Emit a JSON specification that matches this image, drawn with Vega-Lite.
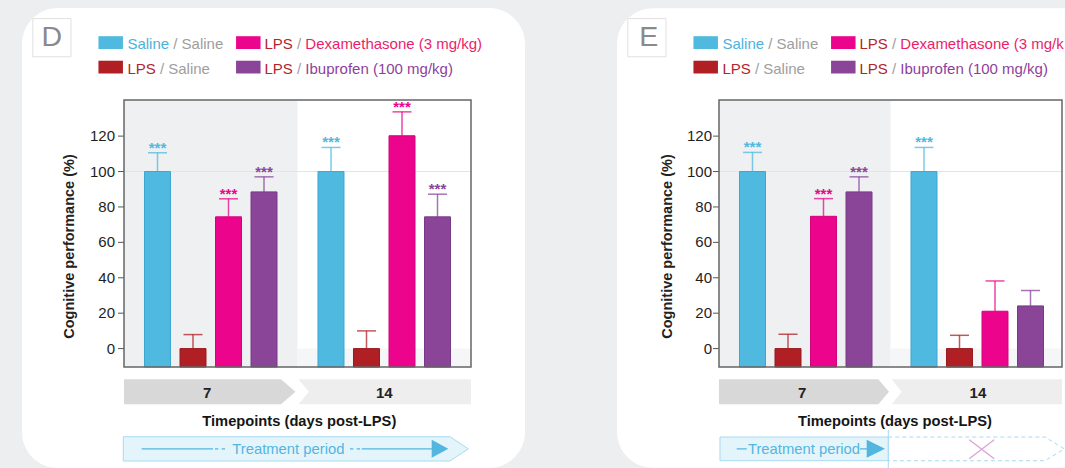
{
"$schema": "https://vega.github.io/schema/vega-lite/v6.json",
"background": "#edeef0",
"padding": {"left": 22, "top": 8, "right": 0, "bottom": 0},
"spacing": 92,
"bounds": "flush",
"config": {"view": {"stroke": null}, "font": "Liberation Sans"},
"datasets": {
"one": [{}],
"yticks": [{"v":0},{"v":20},{"v":40},{"v":60},{"v":80},{"v":100},{"v":120}],
"barsD": [
{"t":"7","g":"Saline / Saline","v":100,"hi":110.6,"sig":"***"},
{"t":"7","g":"LPS / Saline","v":0,"hi":7.9,"sig":""},
{"t":"7","g":"LPS / Dexamethasone (3 mg/kg)","v":74.4,"hi":84.6,"sig":"***"},
{"t":"7","g":"LPS / Ibuprofen (100 mg/kg)","v":88.5,"hi":97,"sig":"***"},
{"t":"14","g":"Saline / Saline","v":100,"hi":113.6,"sig":"***"},
{"t":"14","g":"LPS / Saline","v":0,"hi":10,"sig":""},
{"t":"14","g":"LPS / Dexamethasone (3 mg/kg)","v":120.2,"hi":133.7,"sig":"***"},
{"t":"14","g":"LPS / Ibuprofen (100 mg/kg)","v":74.4,"hi":87.2,"sig":"***"}
],
"barsE": [
{"t":"7","g":"Saline / Saline","v":100,"hi":110.8,"sig":"***"},
{"t":"7","g":"LPS / Saline","v":0,"hi":8.1,"sig":""},
{"t":"7","g":"LPS / Dexamethasone (3 mg/kg)","v":74.7,"hi":84.7,"sig":"***"},
{"t":"7","g":"LPS / Ibuprofen (100 mg/kg)","v":88.5,"hi":97,"sig":"***"},
{"t":"14","g":"Saline / Saline","v":100,"hi":113.6,"sig":"***"},
{"t":"14","g":"LPS / Saline","v":0,"hi":7.5,"sig":""},
{"t":"14","g":"LPS / Dexamethasone (3 mg/kg)","v":21.1,"hi":38.2,"sig":""},
{"t":"14","g":"LPS / Ibuprofen (100 mg/kg)","v":24.1,"hi":32.8,"sig":""}
]
},
"hconcat": [
{
"width": 503, "height": 460,
"view": {"fill": "#ffffff", "cornerRadius": 36, "stroke": null},
"layer": [
{"data":{"name":"one"},"mark":{"type":"rect","fill":"#eff0f1"},
 "encoding":{"x":{"datum":"7","type":"nominal","scale":{"type":"band","domain":["7","14"],"paddingInner":0,"paddingOuter":0.449568,"align":0.653846},"axis":null},"y":{"datum":140.4,"type":"quantitative","scale":{"domain":[-67.44,192.36],"nice":false,"zero":false},"axis":null},"y2":{"datum":-10.4}}},
{"data":{"name":"one"},"mark":{"type":"rect","fill":"#f5f6f7"},
 "encoding":{"x":{"datum":"14","type":"nominal","scale":{"type":"band","domain":["7","14"],"paddingInner":0,"paddingOuter":0.449568,"align":0.653846},"axis":null},"y":{"datum":0,"type":"quantitative","scale":{"domain":[-67.44,192.36],"nice":false,"zero":false},"axis":null},"y2":{"datum":-10.4}}},
{"data":{"name":"one"},"mark":{"type":"point","shape":"M-1,0H1","size":120409,"filled":false,"stroke":"#e2e4e6","strokeWidth":1,"opacity":1},
 "encoding":{"x":{"datum":"14","type":"nominal","bandPosition":0,"scale":{"type":"band","domain":["7","14"],"paddingInner":0,"paddingOuter":0.449568,"align":0.653846},"axis":null},"y":{"datum":100,"type":"quantitative","scale":{"domain":[-67.44,192.36],"nice":false,"zero":false},"axis":null}}},
{"data":{"name":"one"},"mark":{"type":"point","shape":"M-1,-0.1441L0.8098,-0.1441L0.9769,0L0.8098,0.1441L-1,0.1441Z","size":30102,"filled":true,"fill":"#d8d8d8","strokeWidth":0,"opacity":1},
 "encoding":{"x":{"datum":"7","type":"nominal","scale":{"type":"band","domain":["7","14"],"paddingInner":0,"paddingOuter":0.449568,"align":0.653846},"axis":null},"y":{"datum":-24.4,"type":"quantitative","scale":{"domain":[-67.44,192.36],"nice":false,"zero":false},"axis":null}}},
{"data":{"name":"one"},"mark":{"type":"point","shape":"M-0.9885,-0.1441L1,-0.1441L1,0.1441L-0.9885,0.1441L-0.8674,0Z","size":30102,"filled":true,"fill":"#eeeeee","strokeWidth":0,"opacity":1},
 "encoding":{"x":{"datum":"14","type":"nominal","scale":{"type":"band","domain":["7","14"],"paddingInner":0,"paddingOuter":0.449568,"align":0.653846},"axis":null},"y":{"datum":-24.4,"type":"quantitative","scale":{"domain":[-67.44,192.36],"nice":false,"zero":false},"axis":null}}},
{"data":{"name":"one"},"mark":{"type":"point","shape":"M-1.004,-0.07H0.879L0.9844,0L0.879,0.07H-1.004Z","size":120409,"filled":true,"fill":"#e4f4fb","stroke":"#a8dbf0","strokeWidth":1,"opacity":1},
 "encoding":{"x":{"datum":"14","type":"nominal","bandPosition":0,"scale":{"type":"band","domain":["7","14"],"paddingInner":0,"paddingOuter":0.449568,"align":0.653846},"axis":null},"y":{"datum":-56.63,"type":"quantitative","scale":{"domain":[-67.44,192.36],"nice":false,"zero":false},"axis":null}}},
{"data":{"name":"one"},"mark":{"type":"point","shape":"M-0.898,0H-0.487M-0.4755,0H-0.4565M-0.4369,0H-0.4179M0.3026,0H0.3216M0.3412,0H0.3602M0.37,0H0.7752","size":120409,"filled":false,"stroke":"#52b6df","strokeWidth":1.3,"opacity":1},
 "encoding":{"x":{"datum":"14","type":"nominal","bandPosition":0,"scale":{"type":"band","domain":["7","14"],"paddingInner":0,"paddingOuter":0.449568,"align":0.653846},"axis":null},"y":{"datum":-56.63,"type":"quantitative","scale":{"domain":[-67.44,192.36],"nice":false,"zero":false},"axis":null}}},
{"data":{"name":"one"},"mark":{"type":"point","shape":"M0.7735,-0.0519L0.8692,0L0.7735,0.0519Z","size":120409,"filled":true,"fill":"#52b6df","strokeWidth":0,"opacity":1},
 "encoding":{"x":{"datum":"14","type":"nominal","bandPosition":0,"scale":{"type":"band","domain":["7","14"],"paddingInner":0,"paddingOuter":0.449568,"align":0.653846},"axis":null},"y":{"datum":-56.63,"type":"quantitative","scale":{"domain":[-67.44,192.36],"nice":false,"zero":false},"axis":null}}},
{"data":{"name":"one"},"mark":{"type":"point","shape":"M-1,-0.522H1V0.522H-1Z","size":600,"filled":true,"fill":"#4fb9e0","strokeWidth":0,"opacity":1},
 "encoding":{"x":{"datum":"7","type":"nominal","bandPosition":-0.07666,"scale":{"type":"band","domain":["7","14"],"paddingInner":0,"paddingOuter":0.449568,"align":0.653846},"axis":null},"y":{"datum":172.82,"type":"quantitative","scale":{"domain":[-67.44,192.36],"nice":false,"zero":false},"axis":null}}},
{"data":{"name":"one"},"mark":{"type":"point","shape":"M-1,-0.522H1V0.522H-1Z","size":600,"filled":true,"fill":"#b01f24","strokeWidth":0,"opacity":1},
 "encoding":{"x":{"datum":"7","type":"nominal","bandPosition":-0.07666,"scale":{"type":"band","domain":["7","14"],"paddingInner":0,"paddingOuter":0.449568,"align":0.653846},"axis":null},"y":{"datum":158.98,"type":"quantitative","scale":{"domain":[-67.44,192.36],"nice":false,"zero":false},"axis":null}}},
{"data":{"name":"one"},"mark":{"type":"point","shape":"M-1,-0.522H1V0.522H-1Z","size":600,"filled":true,"fill":"#ec058c","strokeWidth":0,"opacity":1},
 "encoding":{"x":{"datum":"7","type":"nominal","bandPosition":0.71643,"scale":{"type":"band","domain":["7","14"],"paddingInner":0,"paddingOuter":0.449568,"align":0.653846},"axis":null},"y":{"datum":172.82,"type":"quantitative","scale":{"domain":[-67.44,192.36],"nice":false,"zero":false},"axis":null}}},
{"data":{"name":"one"},"mark":{"type":"point","shape":"M-1,-0.522H1V0.522H-1Z","size":600,"filled":true,"fill":"#8a4599","strokeWidth":0,"opacity":1},
 "encoding":{"x":{"datum":"7","type":"nominal","bandPosition":0.71643,"scale":{"type":"band","domain":["7","14"],"paddingInner":0,"paddingOuter":0.449568,"align":0.653846},"axis":null},"y":{"datum":158.98,"type":"quantitative","scale":{"domain":[-67.44,192.36],"nice":false,"zero":false},"axis":null}}},
{"data":{"name":"one"},"mark":{"type":"point","shape":"square","size":1459,"filled":true,"fill":"#ffffff","stroke":"#e0e0e0","strokeWidth":1,"opacity":1},
 "encoding":{"x":{"datum":"7","type":"nominal","bandPosition":-0.4156,"scale":{"type":"band","domain":["7","14"],"paddingInner":0,"paddingOuter":0.449568,"align":0.653846},"axis":null},"y":{"datum":175.59,"type":"quantitative","scale":{"domain":[-67.44,192.36],"nice":false,"zero":false},"axis":null}}},
{"data":{"name":"barsD"},
 "encoding":{
  "x":{"field":"t","type":"nominal","scale":{"type":"band","domain":["7","14"],"paddingInner":0,"paddingOuter":0.449568,"align":0.653846},"axis":null},
  "xOffset":{"field":"g","type":"nominal","scale":{"domain":["Saline / Saline","LPS / Saline","LPS / Dexamethasone (3 mg/kg)","LPS / Ibuprofen (100 mg/kg)"],"paddingInner":0.26761,"paddingOuter":0.57746}},
  "color":{"field":"g","type":"nominal","scale":{"domain":["Saline / Saline","LPS / Saline","LPS / Dexamethasone (3 mg/kg)","LPS / Ibuprofen (100 mg/kg)"],"range":["#4fb9e0","#b01f24","#ec058c","#8a4599"]},"legend":null}
 },
 "layer":[
  {"mark":{"type":"bar","strokeWidth":1},"encoding":{"y":{"field":"v","type":"quantitative","scale":{"domain":[-67.44,192.36],"nice":false,"zero":false},"axis":null},"y2":{"datum":-10.4},"stroke":{"field":"g","type":"nominal","scale":{"domain":["Saline / Saline","LPS / Saline","LPS / Dexamethasone (3 mg/kg)","LPS / Ibuprofen (100 mg/kg)"],"range":["#3da6cf","#9a191e","#d1047b","#763a86"]},"legend":null}}},
  {"mark":{"type":"rule","strokeWidth":1.5,"opacity":0.75},"encoding":{"y":{"field":"v","type":"quantitative","scale":{"domain":[-67.44,192.36],"nice":false,"zero":false},"axis":null},"y2":{"field":"hi"}}},
  {"mark":{"type":"tick","orient":"horizontal","size":19,"thickness":1.5,"opacity":0.75},"encoding":{"y":{"field":"hi","type":"quantitative","scale":{"domain":[-67.44,192.36],"nice":false,"zero":false},"axis":null}}},
  {"mark":{"type":"text","fontSize":15,"fontWeight":"bold","baseline":"alphabetic"},"encoding":{"y":{"field":"hi","type":"quantitative","scale":{"domain":[-67.44,192.36],"nice":false,"zero":false},"axis":null},"text":{"field":"sig"}}}
 ]},
{"data":{"name":"yticks"},"mark":{"type":"point","shape":"M-1,0H0","size":144,"filled":false,"stroke":"#555555","strokeWidth":1,"opacity":1},
 "encoding":{"x":{"datum":"7","type":"nominal","bandPosition":0,"scale":{"type":"band","domain":["7","14"],"paddingInner":0,"paddingOuter":0.449568,"align":0.653846},"axis":null},"y":{"field":"v","type":"quantitative","scale":{"domain":[-67.44,192.36],"nice":false,"zero":false},"axis":null}}},
{"data":{"name":"yticks"},"mark":{"type":"text","fontSize":15,"color":"#1e1e1e","align":"right","baseline":"middle"},
 "encoding":{"x":{"datum":"7","type":"nominal","bandPosition":-0.0519,"scale":{"type":"band","domain":["7","14"],"paddingInner":0,"paddingOuter":0.449568,"align":0.653846},"axis":null},"y":{"field":"v","type":"quantitative","scale":{"domain":[-67.44,192.36],"nice":false,"zero":false},"axis":null},"text":{"field":"v","type":"quantitative"}}},
{"data":{"name":"one"},"mark":{"type":"point","shape":"M-1,-0.7695H1V0.7695H-1Z","size":120409,"filled":false,"stroke":"#666666","strokeWidth":1.5,"opacity":1},
 "encoding":{"x":{"datum":"14","type":"nominal","bandPosition":0,"scale":{"type":"band","domain":["7","14"],"paddingInner":0,"paddingOuter":0.449568,"align":0.653846},"axis":null},"y":{"datum":65,"type":"quantitative","scale":{"domain":[-67.44,192.36],"nice":false,"zero":false},"axis":null}}},
{"data":{"name":"one"},"mark":{"type":"text","text":"Saline","fontSize":15,"color":"#4ab3dd","align":"left","baseline":"alphabetic"},
 "encoding":{"x":{"datum":"7","type":"nominal","bandPosition":0.0196,"scale":{"type":"band","domain":["7","14"],"paddingInner":0,"paddingOuter":0.449568,"align":0.653846},"axis":null},"y":{"datum":169.2,"type":"quantitative","scale":{"domain":[-67.44,192.36],"nice":false,"zero":false},"axis":null}}},
{"data":{"name":"one"},"mark":{"type":"text","text":"/ Saline","fontSize":15,"color":"#9e9e9e","align":"left","baseline":"alphabetic","dx":45.86},
 "encoding":{"x":{"datum":"7","type":"nominal","bandPosition":0.0196,"scale":{"type":"band","domain":["7","14"],"paddingInner":0,"paddingOuter":0.449568,"align":0.653846},"axis":null},"y":{"datum":169.2,"type":"quantitative","scale":{"domain":[-67.44,192.36],"nice":false,"zero":false},"axis":null}}},
{"data":{"name":"one"},"mark":{"type":"text","text":"LPS","fontSize":15,"color":"#b3252a","align":"left","baseline":"alphabetic"},
 "encoding":{"x":{"datum":"7","type":"nominal","bandPosition":0.8098,"scale":{"type":"band","domain":["7","14"],"paddingInner":0,"paddingOuter":0.449568,"align":0.653846},"axis":null},"y":{"datum":169.2,"type":"quantitative","scale":{"domain":[-67.44,192.36],"nice":false,"zero":false},"axis":null}}},
{"data":{"name":"one"},"mark":{"type":"text","text":"/","fontSize":15,"color":"#9e9e9e","align":"left","baseline":"alphabetic","dx":32.52},
 "encoding":{"x":{"datum":"7","type":"nominal","bandPosition":0.8098,"scale":{"type":"band","domain":["7","14"],"paddingInner":0,"paddingOuter":0.449568,"align":0.653846},"axis":null},"y":{"datum":169.2,"type":"quantitative","scale":{"domain":[-67.44,192.36],"nice":false,"zero":false},"axis":null}}},
{"data":{"name":"one"},"mark":{"type":"text","text":"Dexamethasone (3 mg/kg)","fontSize":15,"color":"#e91e6b","align":"left","baseline":"alphabetic","dx":40.86},
 "encoding":{"x":{"datum":"7","type":"nominal","bandPosition":0.8098,"scale":{"type":"band","domain":["7","14"],"paddingInner":0,"paddingOuter":0.449568,"align":0.653846},"axis":null},"y":{"datum":169.2,"type":"quantitative","scale":{"domain":[-67.44,192.36],"nice":false,"zero":false},"axis":null}}},
{"data":{"name":"one"},"mark":{"type":"text","text":"LPS","fontSize":15,"color":"#b3252a","align":"left","baseline":"alphabetic"},
 "encoding":{"x":{"datum":"7","type":"nominal","bandPosition":0.0196,"scale":{"type":"band","domain":["7","14"],"paddingInner":0,"paddingOuter":0.449568,"align":0.653846},"axis":null},"y":{"datum":154.86,"type":"quantitative","scale":{"domain":[-67.44,192.36],"nice":false,"zero":false},"axis":null}}},
{"data":{"name":"one"},"mark":{"type":"text","text":"/ Saline","fontSize":15,"color":"#9e9e9e","align":"left","baseline":"alphabetic","dx":32.52},
 "encoding":{"x":{"datum":"7","type":"nominal","bandPosition":0.0196,"scale":{"type":"band","domain":["7","14"],"paddingInner":0,"paddingOuter":0.449568,"align":0.653846},"axis":null},"y":{"datum":154.86,"type":"quantitative","scale":{"domain":[-67.44,192.36],"nice":false,"zero":false},"axis":null}}},
{"data":{"name":"one"},"mark":{"type":"text","text":"LPS","fontSize":15,"color":"#b3252a","align":"left","baseline":"alphabetic"},
 "encoding":{"x":{"datum":"7","type":"nominal","bandPosition":0.8098,"scale":{"type":"band","domain":["7","14"],"paddingInner":0,"paddingOuter":0.449568,"align":0.653846},"axis":null},"y":{"datum":154.86,"type":"quantitative","scale":{"domain":[-67.44,192.36],"nice":false,"zero":false},"axis":null}}},
{"data":{"name":"one"},"mark":{"type":"text","text":"/","fontSize":15,"color":"#9e9e9e","align":"left","baseline":"alphabetic","dx":32.52},
 "encoding":{"x":{"datum":"7","type":"nominal","bandPosition":0.8098,"scale":{"type":"band","domain":["7","14"],"paddingInner":0,"paddingOuter":0.449568,"align":0.653846},"axis":null},"y":{"datum":154.86,"type":"quantitative","scale":{"domain":[-67.44,192.36],"nice":false,"zero":false},"axis":null}}},
{"data":{"name":"one"},"mark":{"type":"text","text":"Ibuprofen (100 mg/kg)","fontSize":15,"color":"#8d3f9d","align":"left","baseline":"alphabetic","dx":40.86},
 "encoding":{"x":{"datum":"7","type":"nominal","bandPosition":0.8098,"scale":{"type":"band","domain":["7","14"],"paddingInner":0,"paddingOuter":0.449568,"align":0.653846},"axis":null},"y":{"datum":154.86,"type":"quantitative","scale":{"domain":[-67.44,192.36],"nice":false,"zero":false},"axis":null}}},
{"data":{"name":"one"},"mark":{"type":"text","text":"D","fontSize":28.5,"color":"#8a8a8a","align":"center","baseline":"alphabetic"},
 "encoding":{"x":{"datum":"7","type":"nominal","bandPosition":-0.4156,"scale":{"type":"band","domain":["7","14"],"paddingInner":0,"paddingOuter":0.449568,"align":0.653846},"axis":null},"y":{"datum":171.12,"type":"quantitative","scale":{"domain":[-67.44,192.36],"nice":false,"zero":false},"axis":null}}},
{"data":{"name":"one"},"mark":{"type":"text","text":"Cognitive performance (%)","fontSize":14.5,"fontWeight":"bold","color":"#222222","align":"center","baseline":"middle","angle":270},
 "encoding":{"x":{"datum":"7","type":"nominal","bandPosition":-0.3095,"scale":{"type":"band","domain":["7","14"],"paddingInner":0,"paddingOuter":0.449568,"align":0.653846},"axis":null},"y":{"datum":57.66,"type":"quantitative","scale":{"domain":[-67.44,192.36],"nice":false,"zero":false},"axis":null}}},
{"data":{"name":"one"},"mark":{"type":"text","text":"7","fontSize":15,"fontWeight":"bold","color":"#222222","align":"center","baseline":"alphabetic"},
 "encoding":{"x":{"datum":"7","type":"nominal","bandPosition":0.48,"scale":{"type":"band","domain":["7","14"],"paddingInner":0,"paddingOuter":0.449568,"align":0.653846},"axis":null},"y":{"datum":-27.74,"type":"quantitative","scale":{"domain":[-67.44,192.36],"nice":false,"zero":false},"axis":null}}},
{"data":{"name":"one"},"mark":{"type":"text","text":"14","fontSize":15,"fontWeight":"bold","color":"#222222","align":"center","baseline":"alphabetic"},
 "encoding":{"x":{"datum":"14","type":"nominal","bandPosition":0.5,"scale":{"type":"band","domain":["7","14"],"paddingInner":0,"paddingOuter":0.449568,"align":0.653846},"axis":null},"y":{"datum":-27.74,"type":"quantitative","scale":{"domain":[-67.44,192.36],"nice":false,"zero":false},"axis":null}}},
{"data":{"name":"one"},"mark":{"type":"text","text":"Timepoints (days post-LPS)","fontSize":14.7,"fontWeight":"bold","color":"#151515","align":"center","baseline":"alphabetic"},
 "encoding":{"x":{"datum":"14","type":"nominal","bandPosition":0.0104,"scale":{"type":"band","domain":["7","14"],"paddingInner":0,"paddingOuter":0.449568,"align":0.653846},"axis":null},"y":{"datum":-43.55,"type":"quantitative","scale":{"domain":[-67.44,192.36],"nice":false,"zero":false},"axis":null}}},
{"data":{"name":"one"},"mark":{"type":"text","text":"Treatment period","fontSize":14.8,"color":"#52b6df","align":"center","baseline":"alphabetic"},
 "encoding":{"x":{"datum":"14","type":"nominal","bandPosition":-0.0527,"scale":{"type":"band","domain":["7","14"],"paddingInner":0,"paddingOuter":0.449568,"align":0.653846},"axis":null},"y":{"datum":-59.7,"type":"quantitative","scale":{"domain":[-67.44,192.36],"nice":false,"zero":false},"axis":null}}}
]
},
{
"width": 448, "height": 460,
"view": {"stroke": null},
"layer": [
{"data":{"name":"one"},"mark":{"type":"point","shape":"M-1.3849,-1.3132H1.0165V1.3656H-1.3849A0.2099,0.2099 0 0 1 -1.5948,1.1557V-1.1033A0.2099,0.2099 0 0 1 -1.3849,-1.3132Z","size":117649,"filled":true,"fill":"#ffffff","strokeWidth":0,"opacity":1},
 "encoding":{"x":{"datum":"14","type":"nominal","bandPosition":0,"scale":{"type":"band","domain":["7","14"],"paddingInner":0,"paddingOuter":0.306122,"align":0.971429},"axis":null},"y":{"datum":65,"type":"quantitative","scale":{"domain":[-67.44,192.36],"nice":false,"zero":false},"axis":null}}},
{"data":{"name":"one"},"mark":{"type":"rect","fill":"#eff0f1"},
 "encoding":{"x":{"datum":"7","type":"nominal","scale":{"type":"band","domain":["7","14"],"paddingInner":0,"paddingOuter":0.306122,"align":0.971429},"axis":null},"y":{"datum":140.4,"type":"quantitative","scale":{"domain":[-67.44,192.36],"nice":false,"zero":false},"axis":null},"y2":{"datum":-10.4}}},
{"data":{"name":"one"},"mark":{"type":"rect","fill":"#f5f6f7"},
 "encoding":{"x":{"datum":"14","type":"nominal","scale":{"type":"band","domain":["7","14"],"paddingInner":0,"paddingOuter":0.306122,"align":0.971429},"axis":null},"y":{"datum":0,"type":"quantitative","scale":{"domain":[-67.44,192.36],"nice":false,"zero":false},"axis":null},"y2":{"datum":-10.4}}},
{"data":{"name":"one"},"mark":{"type":"point","shape":"M-1,0H1","size":117649,"filled":false,"stroke":"#e2e4e6","strokeWidth":1,"opacity":1},
 "encoding":{"x":{"datum":"14","type":"nominal","bandPosition":0,"scale":{"type":"band","domain":["7","14"],"paddingInner":0,"paddingOuter":0.306122,"align":0.971429},"axis":null},"y":{"datum":100,"type":"quantitative","scale":{"domain":[-67.44,192.36],"nice":false,"zero":false},"axis":null}}},
{"data":{"name":"one"},"mark":{"type":"point","shape":"M-1,-0.1458L0.8577,-0.1458L0.9825,0L0.8577,0.1458L-1,0.1458Z","size":29412,"filled":true,"fill":"#d8d8d8","strokeWidth":0,"opacity":1},
 "encoding":{"x":{"datum":"7","type":"nominal","scale":{"type":"band","domain":["7","14"],"paddingInner":0,"paddingOuter":0.306122,"align":0.971429},"axis":null},"y":{"datum":-24.4,"type":"quantitative","scale":{"domain":[-67.44,192.36],"nice":false,"zero":false},"axis":null}}},
{"data":{"name":"one"},"mark":{"type":"point","shape":"M-0.986,-0.1458L1,-0.1458L1,0.1458L-0.986,0.1458L-0.8694,0Z","size":29412,"filled":true,"fill":"#eeeeee","strokeWidth":0,"opacity":1},
 "encoding":{"x":{"datum":"14","type":"nominal","scale":{"type":"band","domain":["7","14"],"paddingInner":0,"paddingOuter":0.306122,"align":0.971429},"axis":null},"y":{"datum":-24.4,"type":"quantitative","scale":{"domain":[-67.44,192.36],"nice":false,"zero":false},"axis":null}}},
{"data":{"name":"one"},"mark":{"type":"point","shape":"M-0.9942,-0.0691H-0.0128V0.0691H-0.9942ZM-0.0128,-0.1099V0.111","size":117649,"filled":true,"fill":"#e4f4fb","stroke":"#a8dbf0","strokeWidth":1,"opacity":1},
 "encoding":{"x":{"datum":"14","type":"nominal","bandPosition":0,"scale":{"type":"band","domain":["7","14"],"paddingInner":0,"paddingOuter":0.306122,"align":0.971429},"axis":null},"y":{"datum":-56.63,"type":"quantitative","scale":{"domain":[-67.44,192.36],"nice":false,"zero":false},"axis":null}}},
{"data":{"name":"one"},"mark":{"type":"point","shape":"M-0.0128,-0.0691H0.9009L1.0134,0L0.9009,0.0691H-0.0128","size":117649,"filled":false,"stroke":"#a8dbf0","strokeWidth":1,"strokeDash":[4,3],"opacity":1},
 "encoding":{"x":{"datum":"14","type":"nominal","bandPosition":0,"scale":{"type":"band","domain":["7","14"],"paddingInner":0,"paddingOuter":0.306122,"align":0.971429},"axis":null},"y":{"datum":-56.63,"type":"quantitative","scale":{"domain":[-67.44,192.36],"nice":false,"zero":false},"axis":null}}},
{"data":{"name":"one"},"mark":{"type":"point","shape":"M-0.8968,0H-0.8385M-0.1778,0H-0.1312","size":117649,"filled":false,"stroke":"#52b6df","strokeWidth":1.3,"opacity":1},
 "encoding":{"x":{"datum":"14","type":"nominal","bandPosition":0,"scale":{"type":"band","domain":["7","14"],"paddingInner":0,"paddingOuter":0.306122,"align":0.971429},"axis":null},"y":{"datum":-56.63,"type":"quantitative","scale":{"domain":[-67.44,192.36],"nice":false,"zero":false},"axis":null}}},
{"data":{"name":"one"},"mark":{"type":"point","shape":"M-0.1388,-0.0525L-0.0321,0L-0.1388,0.0525Z","size":117649,"filled":true,"fill":"#52b6df","strokeWidth":0,"opacity":1},
 "encoding":{"x":{"datum":"14","type":"nominal","bandPosition":0,"scale":{"type":"band","domain":["7","14"],"paddingInner":0,"paddingOuter":0.306122,"align":0.971429},"axis":null},"y":{"datum":-56.63,"type":"quantitative","scale":{"domain":[-67.44,192.36],"nice":false,"zero":false},"axis":null}}},
{"data":{"name":"one"},"mark":{"type":"point","shape":"M-1,-0.76L1,0.76M-1,0.76L1,-0.76","size":625,"filled":false,"stroke":"#d9a3d6","strokeWidth":1.3,"opacity":1},
 "encoding":{"x":{"datum":"14","type":"nominal","bandPosition":0.5318,"scale":{"type":"band","domain":["7","14"],"paddingInner":0,"paddingOuter":0.306122,"align":0.971429},"axis":null},"y":{"datum":-56.88,"type":"quantitative","scale":{"domain":[-67.44,192.36],"nice":false,"zero":false},"axis":null}}},
{"data":{"name":"one"},"mark":{"type":"point","shape":"M-1,-0.522H1V0.522H-1Z","size":600,"filled":true,"fill":"#4fb9e0","strokeWidth":0,"opacity":1},
 "encoding":{"x":{"datum":"7","type":"nominal","bandPosition":-0.07755,"scale":{"type":"band","domain":["7","14"],"paddingInner":0,"paddingOuter":0.306122,"align":0.971429},"axis":null},"y":{"datum":172.82,"type":"quantitative","scale":{"domain":[-67.44,192.36],"nice":false,"zero":false},"axis":null}}},
{"data":{"name":"one"},"mark":{"type":"point","shape":"M-1,-0.522H1V0.522H-1Z","size":600,"filled":true,"fill":"#b01f24","strokeWidth":0,"opacity":1},
 "encoding":{"x":{"datum":"7","type":"nominal","bandPosition":-0.07755,"scale":{"type":"band","domain":["7","14"],"paddingInner":0,"paddingOuter":0.306122,"align":0.971429},"axis":null},"y":{"datum":158.98,"type":"quantitative","scale":{"domain":[-67.44,192.36],"nice":false,"zero":false},"axis":null}}},
{"data":{"name":"one"},"mark":{"type":"point","shape":"M-1,-0.522H1V0.522H-1Z","size":600,"filled":true,"fill":"#ec058c","strokeWidth":0,"opacity":1},
 "encoding":{"x":{"datum":"7","type":"nominal","bandPosition":0.72478,"scale":{"type":"band","domain":["7","14"],"paddingInner":0,"paddingOuter":0.306122,"align":0.971429},"axis":null},"y":{"datum":172.82,"type":"quantitative","scale":{"domain":[-67.44,192.36],"nice":false,"zero":false},"axis":null}}},
{"data":{"name":"one"},"mark":{"type":"point","shape":"M-1,-0.522H1V0.522H-1Z","size":600,"filled":true,"fill":"#8a4599","strokeWidth":0,"opacity":1},
 "encoding":{"x":{"datum":"7","type":"nominal","bandPosition":0.72478,"scale":{"type":"band","domain":["7","14"],"paddingInner":0,"paddingOuter":0.306122,"align":0.971429},"axis":null},"y":{"datum":158.98,"type":"quantitative","scale":{"domain":[-67.44,192.36],"nice":false,"zero":false},"axis":null}}},
{"data":{"name":"one"},"mark":{"type":"point","shape":"square","size":1459,"filled":true,"fill":"#ffffff","stroke":"#e0e0e0","strokeWidth":1,"opacity":1},
 "encoding":{"x":{"datum":"7","type":"nominal","bandPosition":-0.4204,"scale":{"type":"band","domain":["7","14"],"paddingInner":0,"paddingOuter":0.306122,"align":0.971429},"axis":null},"y":{"datum":175.59,"type":"quantitative","scale":{"domain":[-67.44,192.36],"nice":false,"zero":false},"axis":null}}},
{"data":{"name":"barsE"},
 "encoding":{
  "x":{"field":"t","type":"nominal","scale":{"type":"band","domain":["7","14"],"paddingInner":0,"paddingOuter":0.306122,"align":0.971429},"axis":null},
  "xOffset":{"field":"g","type":"nominal","scale":{"domain":["Saline / Saline","LPS / Saline","LPS / Dexamethasone (3 mg/kg)","LPS / Ibuprofen (100 mg/kg)"],"paddingInner":0.26761,"paddingOuter":0.5493}},
  "color":{"field":"g","type":"nominal","scale":{"domain":["Saline / Saline","LPS / Saline","LPS / Dexamethasone (3 mg/kg)","LPS / Ibuprofen (100 mg/kg)"],"range":["#4fb9e0","#b01f24","#ec058c","#8a4599"]},"legend":null}
 },
 "layer":[
  {"mark":{"type":"bar","strokeWidth":1},"encoding":{"y":{"field":"v","type":"quantitative","scale":{"domain":[-67.44,192.36],"nice":false,"zero":false},"axis":null},"y2":{"datum":-10.4},"stroke":{"field":"g","type":"nominal","scale":{"domain":["Saline / Saline","LPS / Saline","LPS / Dexamethasone (3 mg/kg)","LPS / Ibuprofen (100 mg/kg)"],"range":["#3da6cf","#9a191e","#d1047b","#763a86"]},"legend":null}}},
  {"mark":{"type":"rule","strokeWidth":1.5,"opacity":0.75},"encoding":{"y":{"field":"v","type":"quantitative","scale":{"domain":[-67.44,192.36],"nice":false,"zero":false},"axis":null},"y2":{"field":"hi"}}},
  {"mark":{"type":"tick","orient":"horizontal","size":19,"thickness":1.5,"opacity":0.75},"encoding":{"y":{"field":"hi","type":"quantitative","scale":{"domain":[-67.44,192.36],"nice":false,"zero":false},"axis":null}}},
  {"mark":{"type":"text","fontSize":15,"fontWeight":"bold","baseline":"alphabetic"},"encoding":{"y":{"field":"hi","type":"quantitative","scale":{"domain":[-67.44,192.36],"nice":false,"zero":false},"axis":null},"text":{"field":"sig"}}}
 ]},
{"data":{"name":"yticks"},"mark":{"type":"point","shape":"M-1,0H0","size":144,"filled":false,"stroke":"#555555","strokeWidth":1,"opacity":1},
 "encoding":{"x":{"datum":"7","type":"nominal","bandPosition":0,"scale":{"type":"band","domain":["7","14"],"paddingInner":0,"paddingOuter":0.306122,"align":0.971429},"axis":null},"y":{"field":"v","type":"quantitative","scale":{"domain":[-67.44,192.36],"nice":false,"zero":false},"axis":null}}},
{"data":{"name":"yticks"},"mark":{"type":"text","fontSize":15,"color":"#1e1e1e","align":"right","baseline":"middle"},
 "encoding":{"x":{"datum":"7","type":"nominal","bandPosition":-0.0408,"scale":{"type":"band","domain":["7","14"],"paddingInner":0,"paddingOuter":0.306122,"align":0.971429},"axis":null},"y":{"field":"v","type":"quantitative","scale":{"domain":[-67.44,192.36],"nice":false,"zero":false},"axis":null},"text":{"field":"v","type":"quantitative"}}},
{"data":{"name":"one"},"mark":{"type":"point","shape":"M-1,-0.7784H1V0.7784H-1Z","size":117649,"filled":false,"stroke":"#666666","strokeWidth":1.5,"opacity":1},
 "encoding":{"x":{"datum":"14","type":"nominal","bandPosition":0,"scale":{"type":"band","domain":["7","14"],"paddingInner":0,"paddingOuter":0.306122,"align":0.971429},"axis":null},"y":{"datum":65,"type":"quantitative","scale":{"domain":[-67.44,192.36],"nice":false,"zero":false},"axis":null}}},
{"data":{"name":"one"},"mark":{"type":"text","text":"Saline","fontSize":15,"color":"#4ab3dd","align":"left","baseline":"alphabetic"},
 "encoding":{"x":{"datum":"7","type":"nominal","bandPosition":0.0198,"scale":{"type":"band","domain":["7","14"],"paddingInner":0,"paddingOuter":0.306122,"align":0.971429},"axis":null},"y":{"datum":169.2,"type":"quantitative","scale":{"domain":[-67.44,192.36],"nice":false,"zero":false},"axis":null}}},
{"data":{"name":"one"},"mark":{"type":"text","text":"/ Saline","fontSize":15,"color":"#9e9e9e","align":"left","baseline":"alphabetic","dx":45.86},
 "encoding":{"x":{"datum":"7","type":"nominal","bandPosition":0.0198,"scale":{"type":"band","domain":["7","14"],"paddingInner":0,"paddingOuter":0.306122,"align":0.971429},"axis":null},"y":{"datum":169.2,"type":"quantitative","scale":{"domain":[-67.44,192.36],"nice":false,"zero":false},"axis":null}}},
{"data":{"name":"one"},"mark":{"type":"text","text":"LPS","fontSize":15,"color":"#b3252a","align":"left","baseline":"alphabetic"},
 "encoding":{"x":{"datum":"7","type":"nominal","bandPosition":0.81924,"scale":{"type":"band","domain":["7","14"],"paddingInner":0,"paddingOuter":0.306122,"align":0.971429},"axis":null},"y":{"datum":169.2,"type":"quantitative","scale":{"domain":[-67.44,192.36],"nice":false,"zero":false},"axis":null}}},
{"data":{"name":"one"},"mark":{"type":"text","text":"/","fontSize":15,"color":"#9e9e9e","align":"left","baseline":"alphabetic","dx":32.52},
 "encoding":{"x":{"datum":"7","type":"nominal","bandPosition":0.81924,"scale":{"type":"band","domain":["7","14"],"paddingInner":0,"paddingOuter":0.306122,"align":0.971429},"axis":null},"y":{"datum":169.2,"type":"quantitative","scale":{"domain":[-67.44,192.36],"nice":false,"zero":false},"axis":null}}},
{"data":{"name":"one"},"mark":{"type":"text","text":"Dexamethasone (3 mg/kg)","fontSize":15,"color":"#e91e6b","align":"left","baseline":"alphabetic","dx":40.86,"limit":164,"ellipsis":"\u200b"},
 "encoding":{"x":{"datum":"7","type":"nominal","bandPosition":0.81924,"scale":{"type":"band","domain":["7","14"],"paddingInner":0,"paddingOuter":0.306122,"align":0.971429},"axis":null},"y":{"datum":169.2,"type":"quantitative","scale":{"domain":[-67.44,192.36],"nice":false,"zero":false},"axis":null}}},
{"data":{"name":"one"},"mark":{"type":"text","text":"LPS","fontSize":15,"color":"#b3252a","align":"left","baseline":"alphabetic"},
 "encoding":{"x":{"datum":"7","type":"nominal","bandPosition":0.0198,"scale":{"type":"band","domain":["7","14"],"paddingInner":0,"paddingOuter":0.306122,"align":0.971429},"axis":null},"y":{"datum":154.86,"type":"quantitative","scale":{"domain":[-67.44,192.36],"nice":false,"zero":false},"axis":null}}},
{"data":{"name":"one"},"mark":{"type":"text","text":"/ Saline","fontSize":15,"color":"#9e9e9e","align":"left","baseline":"alphabetic","dx":32.52},
 "encoding":{"x":{"datum":"7","type":"nominal","bandPosition":0.0198,"scale":{"type":"band","domain":["7","14"],"paddingInner":0,"paddingOuter":0.306122,"align":0.971429},"axis":null},"y":{"datum":154.86,"type":"quantitative","scale":{"domain":[-67.44,192.36],"nice":false,"zero":false},"axis":null}}},
{"data":{"name":"one"},"mark":{"type":"text","text":"LPS","fontSize":15,"color":"#b3252a","align":"left","baseline":"alphabetic"},
 "encoding":{"x":{"datum":"7","type":"nominal","bandPosition":0.81924,"scale":{"type":"band","domain":["7","14"],"paddingInner":0,"paddingOuter":0.306122,"align":0.971429},"axis":null},"y":{"datum":154.86,"type":"quantitative","scale":{"domain":[-67.44,192.36],"nice":false,"zero":false},"axis":null}}},
{"data":{"name":"one"},"mark":{"type":"text","text":"/","fontSize":15,"color":"#9e9e9e","align":"left","baseline":"alphabetic","dx":32.52},
 "encoding":{"x":{"datum":"7","type":"nominal","bandPosition":0.81924,"scale":{"type":"band","domain":["7","14"],"paddingInner":0,"paddingOuter":0.306122,"align":0.971429},"axis":null},"y":{"datum":154.86,"type":"quantitative","scale":{"domain":[-67.44,192.36],"nice":false,"zero":false},"axis":null}}},
{"data":{"name":"one"},"mark":{"type":"text","text":"Ibuprofen (100 mg/kg)","fontSize":15,"color":"#8d3f9d","align":"left","baseline":"alphabetic","dx":40.86},
 "encoding":{"x":{"datum":"7","type":"nominal","bandPosition":0.81924,"scale":{"type":"band","domain":["7","14"],"paddingInner":0,"paddingOuter":0.306122,"align":0.971429},"axis":null},"y":{"datum":154.86,"type":"quantitative","scale":{"domain":[-67.44,192.36],"nice":false,"zero":false},"axis":null}}},
{"data":{"name":"one"},"mark":{"type":"text","text":"E","fontSize":28.5,"color":"#8a8a8a","align":"center","baseline":"alphabetic"},
 "encoding":{"x":{"datum":"7","type":"nominal","bandPosition":-0.41,"scale":{"type":"band","domain":["7","14"],"paddingInner":0,"paddingOuter":0.306122,"align":0.971429},"axis":null},"y":{"datum":171.12,"type":"quantitative","scale":{"domain":[-67.44,192.36],"nice":false,"zero":false},"axis":null}}},
{"data":{"name":"one"},"mark":{"type":"text","text":"Cognitive performance (%)","fontSize":14.5,"fontWeight":"bold","color":"#222222","align":"center","baseline":"middle","angle":270},
 "encoding":{"x":{"datum":"7","type":"nominal","bandPosition":-0.3,"scale":{"type":"band","domain":["7","14"],"paddingInner":0,"paddingOuter":0.306122,"align":0.971429},"axis":null},"y":{"datum":57.66,"type":"quantitative","scale":{"domain":[-67.44,192.36],"nice":false,"zero":false},"axis":null}}},
{"data":{"name":"one"},"mark":{"type":"text","text":"7","fontSize":15,"fontWeight":"bold","color":"#222222","align":"center","baseline":"alphabetic"},
 "encoding":{"x":{"datum":"7","type":"nominal","bandPosition":0.485,"scale":{"type":"band","domain":["7","14"],"paddingInner":0,"paddingOuter":0.306122,"align":0.971429},"axis":null},"y":{"datum":-27.74,"type":"quantitative","scale":{"domain":[-67.44,192.36],"nice":false,"zero":false},"axis":null}}},
{"data":{"name":"one"},"mark":{"type":"text","text":"14","fontSize":15,"fontWeight":"bold","color":"#222222","align":"center","baseline":"alphabetic"},
 "encoding":{"x":{"datum":"14","type":"nominal","bandPosition":0.51,"scale":{"type":"band","domain":["7","14"],"paddingInner":0,"paddingOuter":0.306122,"align":0.971429},"axis":null},"y":{"datum":-27.74,"type":"quantitative","scale":{"domain":[-67.44,192.36],"nice":false,"zero":false},"axis":null}}},
{"data":{"name":"one"},"mark":{"type":"text","text":"Timepoints (days post-LPS)","fontSize":14.7,"fontWeight":"bold","color":"#151515","align":"center","baseline":"alphabetic"},
 "encoding":{"x":{"datum":"14","type":"nominal","bandPosition":0.026,"scale":{"type":"band","domain":["7","14"],"paddingInner":0,"paddingOuter":0.306122,"align":0.971429},"axis":null},"y":{"datum":-43.55,"type":"quantitative","scale":{"domain":[-67.44,192.36],"nice":false,"zero":false},"axis":null}}},
{"data":{"name":"one"},"mark":{"type":"text","text":"Treatment period","fontSize":14.8,"color":"#52b6df","align":"center","baseline":"alphabetic"},
 "encoding":{"x":{"datum":"14","type":"nominal","bandPosition":-0.5044,"scale":{"type":"band","domain":["7","14"],"paddingInner":0,"paddingOuter":0.306122,"align":0.971429},"axis":null},"y":{"datum":-59.7,"type":"quantitative","scale":{"domain":[-67.44,192.36],"nice":false,"zero":false},"axis":null}}}
]
}
]
}
